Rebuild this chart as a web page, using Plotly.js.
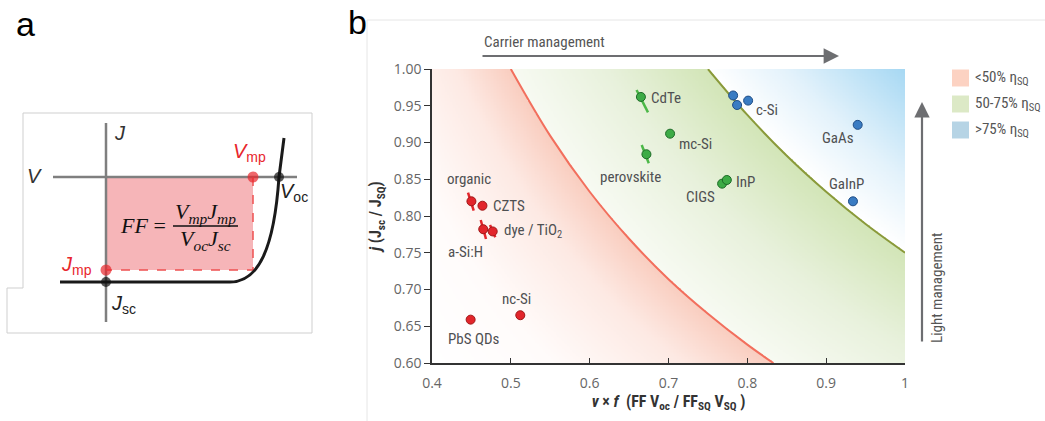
<!DOCTYPE html>
<html><head><meta charset="utf-8">
<script src="https://cdn.plot.ly/plotly-3.0.1.min.js"></script>
<style>html,body{margin:0;padding:0;background:#fff}</style>
</head><body><div id="chart" style="width:1045px;height:421px"></div>
<script>
// ---------------- DATA (panel b) ----------------
const pointLabel = ['organic','CZTS','a-Si:H','dye / TiO<sub>2</sub>','nc-Si','PbS QDs','CdTe','perovskite','mc-Si','CIGS','InP','','','c-Si','GaAs','GaInP'];
const pointX = [0.450,0.464,0.465,0.477,0.512,0.449,0.665,0.672,0.702,0.768,0.774,0.782,0.787,0.801,0.940,0.934];
const pointY = [0.820,0.814,0.782,0.779,0.665,0.659,0.962,0.884,0.912,0.844,0.849,0.964,0.951,0.957,0.924,0.820];
const pointClass = ['low','low','low','low','low','low','mid','mid','mid','mid','mid','high','high','high','high','high'];
// spread segments (start / end)
const errX0 = [0.4457,null,0.4618,0.4736,null,null,0.6595,0.6660,null,null,null,null,null,null,null,null];
const errY0 = [0.8317,null,0.7946,0.7878,null,null,0.9714,0.8966,null,null,null,null,null,null,null,null];
const errX1 = [0.4529,null,0.4685,0.4803,null,null,0.6740,0.6750,null,null,null,null,null,null,null,null];
const errY1 = [0.8072,null,0.7687,0.7710,null,null,0.9410,0.8717,null,null,null,null,null,null,null,null];
// iso-efficiency boundaries (50% and 75% of SQ limit)
const curve50X = [0.500,0.550,0.600,0.650,0.700,0.750,0.800,0.833];
const curve50Y = [1.000,0.909,0.833,0.769,0.714,0.667,0.625,0.600];
const curve75X = [0.750,0.800,0.850,0.900,0.950,1.000];
const curve75Y = [1.000,0.9375,0.882,0.833,0.789,0.750];
const xTickVals = [0.4,0.5,0.6,0.7,0.8,0.9,1.0];
const xTickText = ['0.4','0.5','0.6','0.7','0.8','0.9','1'];
const yTickVals = [0.60,0.65,0.70,0.75,0.80,0.85,0.90,0.95,1.00];
const legendText = ['&lt;50% η<sub>SQ</sub>','50-75% η<sub>SQ</sub>','&gt;75% η<sub>SQ</sub>'];

// ---------------- DATA (panel a schematic, drawing units = px) ----------------
const schemDotX = [253,106,106,279];
const schemDotY = [177,270,282,177];
const schemDotColor = ['#e8262c','#e8262c','#111111','#111111'];

// ---------------- STYLE ----------------
const classColor = {low:'#e2252b', mid:'#3dab46', high:'#3a7cc3'};
const classEdge  = {low:'#a01818', mid:'#1d6b27', high:'#1f4d86'};
const classSeg   = {low:'#e2252b', mid:'#4cb848'};
const labelDx = [-2,27,-18,40,-4,3,25,-16,25,-22,19,0,0,19,-20,-6];
const labelDy = [22,0,-23,0,16,-19,-1,-23,-10,-13,-2,0,0,-9,-13,17];
const lblFont = {family:'Liberation Sans Narrow, Roboto Condensed, Roboto, sans-serif', size:15, color:'#4f5052'};

// background shading: fraction of SQ efficiency eta = j * (v*f)
const gridX = []; for (let i = 0; i <= 300; i++) gridX.push(0.4 + i*0.002);
const gridY = []; for (let j = 0; j <= 200; j++) gridY.push(0.6 + j*0.002);
const effZ = gridY.map(y => gridX.map(x => x*y));

const traces = [];
traces.push({type:'heatmap', x:gridX, y:gridY, z:effZ, zmin:0.24, zmax:1.0, zsmooth:false,
  showscale:false, hoverinfo:'skip',
  colorscale:[[0,'#ffffff'],[0.12,'#fffbfa'],[0.25,'#fde9e3'],[0.3421,'#f9cdbf'],[0.3422,'#f7faf2'],[0.50,'#e8f1dc'],[0.6710,'#d2e5b7'],[0.6711,'#ffffff'],[0.80,'#e3f2fb'],[1,'#a6d8f3']]});
traces.push({type:'scatter', mode:'lines', x:curve50X, y:curve50Y, line:{color:'#f26f5d', width:2, shape:'spline'}, hoverinfo:'skip', showlegend:false});
traces.push({type:'scatter', mode:'lines', x:curve75X, y:curve75Y, line:{color:'#8a9a3a', width:2, shape:'spline'}, hoverinfo:'skip', showlegend:false});

['low','mid'].forEach(c => {
  const sx = [], sy = [];
  pointX.forEach((_, i) => {
    if (pointClass[i] === c && errX0[i] !== null) { sx.push(errX0[i], errX1[i], null); sy.push(errY0[i], errY1[i], null); }
  });
  traces.push({type:'scatter', mode:'lines', x:sx, y:sy, line:{color:classSeg[c], width:2.5}, hoverinfo:'skip', showlegend:false});
});
['low','mid','high'].forEach(c => {
  const idx = pointX.map((_, i) => i).filter(i => pointClass[i] === c);
  traces.push({type:'scatter', mode:'markers', x:idx.map(i => pointX[i]), y:idx.map(i => pointY[i]),
    marker:{color:classColor[c], size:9, line:{color:classEdge[c], width:1}}, showlegend:false});
});
// schematic dots (panel a)
traces.push({type:'scatter', mode:'markers', xaxis:'x2', yaxis:'y2', x:schemDotX, y:schemDotY,
  marker:{color:schemDotColor, size:[11,11,10,10], line:{width:0}}, showlegend:false, hoverinfo:'skip'});

const annotations = [];
pointLabel.forEach((t, i) => {
  if (!t) return;
  annotations.push({x:pointX[i], y:pointY[i], xref:'x', yref:'y', text:t, showarrow:false,
    xshift:labelDx[i], yshift:labelDy[i], font:lblFont});
});
const A = (x, y, text, font, extra) => Object.assign({xref:'x2', yref:'y2', x:x, y:y, text:text, showarrow:false, font:font}, extra||{});
const sans = 'Liberation Sans, Arial, sans-serif';
const serif = 'Liberation Serif, DejaVu Serif, serif';
// panel labels
annotations.push(A(25, 24, 'a', {family:sans, size:34, color:'#000'}));
annotations.push(A(357, 22, 'b', {family:sans, size:34, color:'#000'}));
// panel a texts
annotations.push(A(120, 133, '<i>J</i>', {family:sans, size:20, color:'#333'}));
annotations.push(A(34, 176, '<i>V</i>', {family:sans, size:20, color:'#333'}));
annotations.push(A(249, 152, '<i>V</i><sub>mp</sub>', {family:sans, size:20, color:'#e8262c'}));
annotations.push(A(294, 192, '<i>V</i><sub>oc</sub>', {family:sans, size:20, color:'#222'}));
annotations.push(A(76, 265, '<i>J</i><sub>mp</sub>', {family:sans, size:20, color:'#e8262c'}));
annotations.push(A(123, 304, '<i>J</i><sub>sc</sub>', {family:sans, size:20, color:'#222'}));
annotations.push(A(143, 225, '<i>FF</i> =', {family:serif, size:22, color:'#111'}));
annotations.push(A(205, 213, '<i>V<sub>mp</sub>J<sub>mp</sub></i>', {family:serif, size:22, color:'#111'}));
annotations.push(A(205, 240, '<i>V<sub>oc</sub>J<sub>sc</sub></i>', {family:serif, size:22, color:'#111'}));
// panel b decorations
annotations.push(A(544, 42, 'Carrier management', {family:lblFont.family, size:15, color:'#555'}));
annotations.push(A(839, 56, '', {}, {showarrow:true, ax:481, ay:56, axref:'x2', ayref:'y2', arrowhead:2, arrowsize:1.4, arrowwidth:2.2, arrowcolor:'#6d6e71'}));
annotations.push(A(922, 102, '', {}, {showarrow:true, ax:922, ay:343, axref:'x2', ayref:'y2', arrowhead:2, arrowsize:1.4, arrowwidth:2.2, arrowcolor:'#6d6e71'}));
annotations.push(A(937, 288, 'Light management', {family:lblFont.family, size:15, color:'#555'}, {textangle:-90}));
const legendY = [78, 104, 130];
const legendColor = ['#fcd2c2','#dce9c6','#b6d4e5'];
legendText.forEach((t, k) => annotations.push(A(973, legendY[k], t, {family:lblFont.family, size:15, color:'#555'}, {xanchor:'left'})));

const S = (o) => Object.assign({xref:'x2', yref:'y2', layer:'below'}, o);
const shapes = [
  // panel a frame and schematic
  S({type:'path', path:'M 23 113 L 312 113 L 312 333 L 7 333 L 7 288 L 23 288 Z', line:{color:'#cfcfcf', width:1}}),
  S({type:'rect', x0:106, x1:253, y0:177, y1:270, fillcolor:'#f6b5b8', line:{width:0}}),
  S({type:'line', x0:53, x1:297, y0:177, y1:177, line:{color:'#7f7f7f', width:2.5}}),
  S({type:'line', x0:106, x1:106, y0:123, y1:322, line:{color:'#7f7f7f', width:2.5}}),
  S({type:'path', path:'M 253 177 L 253 270 L 106 270', line:{color:'#ee5050', width:1.5, dash:'dash'}}),
  S({type:'path', path:'M 60 282 L 230 282 C 258 282 274 250 279 177 L 284 138', line:{color:'#1a1a1a', width:3}}),
  S({type:'line', x0:173, x1:238, y0:226, y1:226, line:{color:'#111', width:1.3}}),
  // panel b faint frame
  S({type:'line', x0:367, x1:1045, y0:20, y1:20, line:{color:'#e6e6e6', width:1}}),
  S({type:'line', x0:367, x1:367, y0:20, y1:421, line:{color:'#e6e6e6', width:1}})
];
legendColor.forEach((c, k) => shapes.push(S({type:'rect', x0:952, x1:969, y0:legendY[k]-8.5, y1:legendY[k]+8.5, fillcolor:c, line:{width:0}})));

const tickFont = {family:'Open Sans, Liberation Sans, sans-serif', size:14, color:'#666'};
const titleFont = {family:lblFont.family, size:16, color:'#333', weight:'bold'};
const layout = {
  width:1045, height:421, margin:{l:0, r:0, t:0, b:0},
  paper_bgcolor:'#ffffff', plot_bgcolor:'rgba(0,0,0,0)', showlegend:false,
  xaxis:{domain:[432/1045, 905/1045], range:[0.4, 1.0], tickvals:xTickVals, ticktext:xTickText,
    ticks:'inside', ticklen:5, tickcolor:'#333', showline:true, linecolor:'#333', linewidth:1.5,
    showgrid:false, zeroline:false, tickfont:tickFont, ticklabelstandoff:6,
    title:{text:'<i>v</i> × <i>f</i>  (FF V<sub>oc</sub> / FF<sub>SQ</sub> V<sub>SQ</sub> )', font:titleFont, standoff:4}},
  yaxis:{domain:[58/421, 352/421], range:[0.6, 1.0], tickvals:yTickVals, tickformat:'.2f',
    ticks:'outside', ticklen:6, tickcolor:'#333', showline:true, linecolor:'#333', linewidth:1.5,
    showgrid:false, zeroline:false, tickfont:tickFont,
    title:{text:'<i>j</i> (J<sub>sc</sub> / J<sub>SQ</sub>)', font:titleFont, standoff:8}},
  xaxis2:{domain:[0,1], range:[0,1045], visible:false, anchor:'y2', fixedrange:true},
  yaxis2:{domain:[0,1], range:[421,0], visible:false, anchor:'x2', fixedrange:true},
  annotations:annotations, shapes:shapes
};
Plotly.newPlot('chart', traces, layout, {displayModeBar:false});
</script></body></html>
